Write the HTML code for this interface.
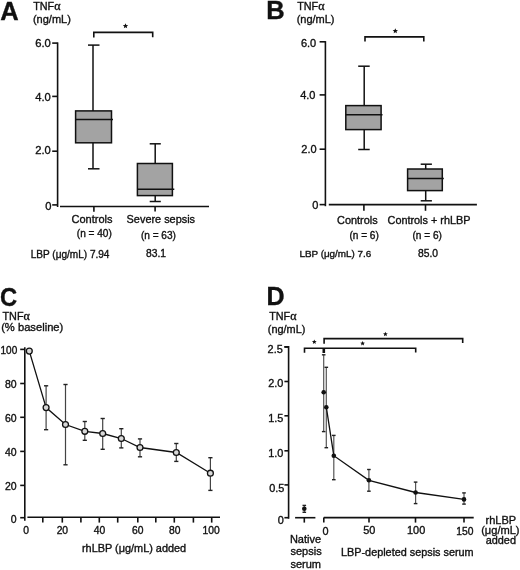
<!DOCTYPE html>
<html><head><meta charset="utf-8"><style>
html,body{margin:0;padding:0;background:#fff;}
svg{display:block;font-family:"Liberation Sans",sans-serif;will-change:transform;}
text{stroke:#111;stroke-width:0.35px;}
</style></head><body>
<svg width="520" height="570" viewBox="0 0 520 570">
<rect width="520" height="570" fill="#fff"/>
<text x="0.26" y="20.40" font-size="25.5" font-weight="bold" fill="#111">A</text>
<text x="33.23" y="9.90" font-size="10.8" fill="#111">TNF<tspan font-family="Liberation Serif" font-size="1.12em">α</tspan></text>
<text x="32.94" y="23.20" font-size="11" fill="#111">(ng/mL)</text>
<line x1="52.2" y1="43.1" x2="57.6" y2="43.1" stroke="#111" stroke-width="1.6"/>
<line x1="52.2" y1="96.4" x2="57.6" y2="96.4" stroke="#111" stroke-width="1.6"/>
<line x1="52.2" y1="151.2" x2="57.6" y2="151.2" stroke="#111" stroke-width="1.6"/>
<line x1="52.2" y1="204.9" x2="57.6" y2="204.9" stroke="#111" stroke-width="1.6"/>
<path d="M57.6 42.4 V207" stroke="#111" stroke-width="1.6" fill="none"/>
<text x="35.18" y="47.40" font-size="11.2" fill="#111">6.0</text>
<text x="35.18" y="100.90" font-size="11.2" fill="#111">4.0</text>
<text x="35.18" y="154.40" font-size="11.2" fill="#111">2.0</text>
<text x="45.13" y="210.30" font-size="11.2" fill="#111">0</text>
<line x1="60" y1="206.5" x2="209" y2="206.5" stroke="#111" stroke-width="1.6"/>
<line x1="93.9" y1="206.3" x2="93.9" y2="211.8" stroke="#111" stroke-width="1.6"/>
<line x1="155.1" y1="206.3" x2="155.1" y2="211.5" stroke="#111" stroke-width="1.6"/>
<rect x="75.6" y="110.9" width="35.900000000000006" height="31.900000000000006" fill="#a3a3a3" stroke="#111" stroke-width="1.5"/>
<line x1="75.6" y1="119.6" x2="113" y2="119.6" stroke="#111" stroke-width="1.5"/>
<line x1="93" y1="45.1" x2="93" y2="110.9" stroke="#111" stroke-width="1.5"/>
<line x1="88" y1="45.1" x2="99.5" y2="45.1" stroke="#111" stroke-width="1.5"/>
<line x1="93" y1="142.8" x2="93" y2="168.8" stroke="#111" stroke-width="1.5"/>
<line x1="88" y1="168.8" x2="99.5" y2="168.8" stroke="#111" stroke-width="1.5"/>
<rect x="137.4" y="163.5" width="35.0" height="32.099999999999994" fill="#a3a3a3" stroke="#111" stroke-width="1.5"/>
<line x1="137.4" y1="189.2" x2="174.3" y2="189.2" stroke="#111" stroke-width="1.5"/>
<line x1="155.2" y1="143.8" x2="155.2" y2="163.5" stroke="#111" stroke-width="1.5"/>
<line x1="149.7" y1="143.8" x2="160.79999999999998" y2="143.8" stroke="#111" stroke-width="1.5"/>
<line x1="155.2" y1="195.6" x2="155.2" y2="201.5" stroke="#111" stroke-width="1.5"/>
<line x1="149.7" y1="201.5" x2="160.79999999999998" y2="201.5" stroke="#111" stroke-width="1.5"/>
<path d="M93.8 37.5 V32.4 H152.7 V37.3" stroke="#111" stroke-width="1.6" fill="none"/>
<polygon points="125.50,23.30 126.24,25.08 128.16,25.23 126.70,26.49 127.15,28.37 125.50,27.36 123.85,28.37 124.30,26.49 122.84,25.23 124.76,25.08" fill="#111"/>
<text x="71.55" y="222.70" font-size="11" fill="#111">Controls</text>
<text x="126.61" y="222.70" font-size="10.9" fill="#111">Severe sepsis</text>
<text x="76.79" y="237.00" font-size="10.1" fill="#111">(n = 40)</text>
<text x="140.89" y="239.40" font-size="10.1" fill="#111">(n = 63)</text>
<text x="30.70" y="257.50" font-size="10.05" fill="#111">LBP (μg/mL) 7.94</text>
<text x="146.04" y="257.30" font-size="10.3" fill="#111">83.1</text>
<text x="266.14" y="18.80" font-size="25.5" font-weight="bold" fill="#111">B</text>
<text x="297.13" y="9.90" font-size="10.8" fill="#111">TNF<tspan font-family="Liberation Serif" font-size="1.12em">α</tspan></text>
<text x="296.64" y="23.10" font-size="11" fill="#111">(ng/mL)</text>
<line x1="319.6" y1="41.8" x2="325.4" y2="41.8" stroke="#111" stroke-width="1.6"/>
<line x1="319.6" y1="94.9" x2="325.4" y2="94.9" stroke="#111" stroke-width="1.6"/>
<line x1="319.6" y1="149.2" x2="325.4" y2="149.2" stroke="#111" stroke-width="1.6"/>
<line x1="319.6" y1="204.6" x2="325.4" y2="204.6" stroke="#111" stroke-width="1.6"/>
<path d="M325.4 41.1 V206.2" stroke="#111" stroke-width="1.6" fill="none"/>
<text x="300.95" y="46.50" font-size="11.0" fill="#111">6.0</text>
<text x="300.15" y="99.10" font-size="11.0" fill="#111">4.0</text>
<text x="301.35" y="152.70" font-size="11.0" fill="#111">2.0</text>
<text x="312.13" y="209.20" font-size="11.0" fill="#111">0</text>
<line x1="328.8" y1="204.6" x2="476.9" y2="204.6" stroke="#111" stroke-width="1.6"/>
<line x1="363.9" y1="204.6" x2="363.9" y2="210.8" stroke="#111" stroke-width="1.6"/>
<line x1="425.5" y1="204.6" x2="425.5" y2="210.8" stroke="#111" stroke-width="1.6"/>
<rect x="345.8" y="105.6" width="35.30000000000001" height="24.0" fill="#a3a3a3" stroke="#111" stroke-width="1.5"/>
<line x1="345.8" y1="114.7" x2="382.5" y2="114.7" stroke="#111" stroke-width="1.5"/>
<line x1="364.2" y1="66.2" x2="364.2" y2="105.6" stroke="#111" stroke-width="1.5"/>
<line x1="358.2" y1="66.2" x2="369.7" y2="66.2" stroke="#111" stroke-width="1.5"/>
<line x1="364.2" y1="129.6" x2="364.2" y2="149.5" stroke="#111" stroke-width="1.5"/>
<line x1="358.2" y1="149.5" x2="369.7" y2="149.5" stroke="#111" stroke-width="1.5"/>
<rect x="407.6" y="169.0" width="34.69999999999999" height="21.599999999999994" fill="#a3a3a3" stroke="#111" stroke-width="1.5"/>
<line x1="407.6" y1="178.5" x2="443.8" y2="178.5" stroke="#111" stroke-width="1.5"/>
<line x1="425.7" y1="164.2" x2="425.7" y2="169.0" stroke="#111" stroke-width="1.5"/>
<line x1="420.7" y1="164.2" x2="431.9" y2="164.2" stroke="#111" stroke-width="1.5"/>
<line x1="425.7" y1="190.6" x2="425.7" y2="200.8" stroke="#111" stroke-width="1.5"/>
<line x1="420.7" y1="200.8" x2="431.9" y2="200.8" stroke="#111" stroke-width="1.5"/>
<path d="M365 41.5 V36.9 H423.8 V41.5" stroke="#111" stroke-width="1.6" fill="none"/>
<polygon points="395.30,28.30 396.04,30.08 397.96,30.23 396.50,31.49 396.95,33.37 395.30,32.36 393.65,33.37 394.10,31.49 392.64,30.23 394.56,30.08" fill="#111"/>
<text x="337.06" y="223.60" font-size="10.9" fill="#111">Controls</text>
<text x="387.56" y="223.80" font-size="10.85" fill="#111">Controls + rhLBP</text>
<text x="349.39" y="239.00" font-size="10.1" fill="#111">(n = 6)</text>
<text x="412.49" y="238.70" font-size="10.1" fill="#111">(n = 6)</text>
<text x="299.41" y="257.10" font-size="9.9" fill="#111">LBP (μg/mL) 7.6</text>
<text x="418.04" y="257.10" font-size="10.3" fill="#111">85.0</text>
<text transform="translate(-0.05,305.80) scale(0.95,1)" font-size="25" font-weight="bold" fill="#111">C</text>
<text x="2.53" y="320.30" font-size="10.8" fill="#111">TNF<tspan font-family="Liberation Serif" font-size="1.12em">α</tspan></text>
<text x="1.13" y="331.40" font-size="11.2" fill="#111">(% baseline)</text>
<line x1="20.2" y1="349.4" x2="24.8" y2="349.4" stroke="#111" stroke-width="1.6"/>
<line x1="20.2" y1="383.5" x2="24.8" y2="383.5" stroke="#111" stroke-width="1.6"/>
<line x1="20.2" y1="417.3" x2="24.8" y2="417.3" stroke="#111" stroke-width="1.6"/>
<line x1="20.2" y1="451.4" x2="24.8" y2="451.4" stroke="#111" stroke-width="1.6"/>
<line x1="20.2" y1="485.4" x2="24.8" y2="485.4" stroke="#111" stroke-width="1.6"/>
<line x1="20.2" y1="517.7" x2="24.8" y2="517.7" stroke="#111" stroke-width="1.6"/>
<path d="M24.8 347.3 V520.8" stroke="#111" stroke-width="1.6" fill="none"/>
<text x="0.55" y="353.80" font-size="10.0" fill="#111">100</text>
<text x="4.96" y="387.90" font-size="10.5" fill="#111">80</text>
<text x="4.96" y="421.70" font-size="10.5" fill="#111">60</text>
<text x="4.96" y="455.80" font-size="10.5" fill="#111">40</text>
<text x="4.96" y="489.80" font-size="10.5" fill="#111">20</text>
<text x="10.79" y="523.40" font-size="10.5" fill="#111">0</text>
<line x1="27.4" y1="517.3" x2="220.0" y2="517.3" stroke="#111" stroke-width="1.6"/>
<line x1="42.8" y1="517.3" x2="42.8" y2="522.6" stroke="#111" stroke-width="1.6"/>
<line x1="62.3" y1="517.3" x2="62.3" y2="522.6" stroke="#111" stroke-width="1.6"/>
<line x1="80.9" y1="517.3" x2="80.9" y2="522.6" stroke="#111" stroke-width="1.6"/>
<line x1="99.3" y1="517.3" x2="99.3" y2="522.6" stroke="#111" stroke-width="1.6"/>
<line x1="117.7" y1="517.3" x2="117.7" y2="522.6" stroke="#111" stroke-width="1.6"/>
<line x1="137.8" y1="517.3" x2="137.8" y2="522.6" stroke="#111" stroke-width="1.6"/>
<line x1="155.8" y1="517.3" x2="155.8" y2="522.6" stroke="#111" stroke-width="1.6"/>
<line x1="174.3" y1="517.3" x2="174.3" y2="522.6" stroke="#111" stroke-width="1.6"/>
<line x1="193.4" y1="517.3" x2="193.4" y2="522.6" stroke="#111" stroke-width="1.6"/>
<line x1="211.7" y1="517.3" x2="211.7" y2="522.6" stroke="#111" stroke-width="1.6"/>
<text x="23.34" y="534.40" font-size="10.3" fill="#111">0</text>
<text x="56.63" y="534.40" font-size="10.3" fill="#111">20</text>
<text x="93.86" y="534.40" font-size="10.3" fill="#111">40</text>
<text x="132.03" y="534.40" font-size="10.3" fill="#111">60</text>
<text x="168.96" y="534.40" font-size="10.3" fill="#111">80</text>
<text x="202.44" y="534.40" font-size="10.3" fill="#111">100</text>
<text x="81.99" y="551.90" font-size="10.9" fill="#111">rhLBP (μg/mL) added</text>
<line x1="46.1" y1="385.8" x2="46.1" y2="429.7" stroke="#444" stroke-width="1.2"/>
<line x1="44.0" y1="385.8" x2="48.2" y2="385.8" stroke="#222" stroke-width="1.4"/>
<line x1="44.0" y1="429.7" x2="48.2" y2="429.7" stroke="#222" stroke-width="1.4"/>
<line x1="65.5" y1="384.5" x2="65.5" y2="464.8" stroke="#444" stroke-width="1.2"/>
<line x1="63.4" y1="384.5" x2="67.6" y2="384.5" stroke="#222" stroke-width="1.4"/>
<line x1="63.4" y1="464.8" x2="67.6" y2="464.8" stroke="#222" stroke-width="1.4"/>
<line x1="84.8" y1="421.5" x2="84.8" y2="440.3" stroke="#444" stroke-width="1.2"/>
<line x1="82.7" y1="421.5" x2="86.89999999999999" y2="421.5" stroke="#222" stroke-width="1.4"/>
<line x1="82.7" y1="440.3" x2="86.89999999999999" y2="440.3" stroke="#222" stroke-width="1.4"/>
<line x1="102.7" y1="418.5" x2="102.7" y2="449.3" stroke="#444" stroke-width="1.2"/>
<line x1="100.60000000000001" y1="418.5" x2="104.8" y2="418.5" stroke="#222" stroke-width="1.4"/>
<line x1="100.60000000000001" y1="449.3" x2="104.8" y2="449.3" stroke="#222" stroke-width="1.4"/>
<line x1="121.3" y1="428.7" x2="121.3" y2="447.9" stroke="#444" stroke-width="1.2"/>
<line x1="119.2" y1="428.7" x2="123.39999999999999" y2="428.7" stroke="#222" stroke-width="1.4"/>
<line x1="119.2" y1="447.9" x2="123.39999999999999" y2="447.9" stroke="#222" stroke-width="1.4"/>
<line x1="140" y1="438.9" x2="140" y2="456.8" stroke="#444" stroke-width="1.2"/>
<line x1="137.9" y1="438.9" x2="142.1" y2="438.9" stroke="#222" stroke-width="1.4"/>
<line x1="137.9" y1="456.8" x2="142.1" y2="456.8" stroke="#222" stroke-width="1.4"/>
<line x1="176.3" y1="443.5" x2="176.3" y2="461.4" stroke="#444" stroke-width="1.2"/>
<line x1="174.20000000000002" y1="443.5" x2="178.4" y2="443.5" stroke="#222" stroke-width="1.4"/>
<line x1="174.20000000000002" y1="461.4" x2="178.4" y2="461.4" stroke="#222" stroke-width="1.4"/>
<line x1="210.4" y1="457.7" x2="210.4" y2="490.4" stroke="#444" stroke-width="1.2"/>
<line x1="208.3" y1="457.7" x2="212.5" y2="457.7" stroke="#222" stroke-width="1.4"/>
<line x1="208.3" y1="490.4" x2="212.5" y2="490.4" stroke="#222" stroke-width="1.4"/>
<path d="M29.3 351.1 L46.1 407.6 L65.5 424.5 L84.8 431.3 L102.7 433.5 L121.3 438.5 L140 447.5 L176.3 452.5 L210.4 473.2" stroke="#111" stroke-width="1.3" fill="none"/>
<circle cx="29.3" cy="351.1" r="2.95" fill="#d8d8d8" stroke="#111" stroke-width="1.3"/>
<circle cx="46.1" cy="407.6" r="2.95" fill="#d8d8d8" stroke="#111" stroke-width="1.3"/>
<circle cx="65.5" cy="424.5" r="2.95" fill="#d8d8d8" stroke="#111" stroke-width="1.3"/>
<circle cx="84.8" cy="431.3" r="2.95" fill="#d8d8d8" stroke="#111" stroke-width="1.3"/>
<circle cx="102.7" cy="433.5" r="2.95" fill="#d8d8d8" stroke="#111" stroke-width="1.3"/>
<circle cx="121.3" cy="438.5" r="2.95" fill="#d8d8d8" stroke="#111" stroke-width="1.3"/>
<circle cx="140" cy="447.5" r="2.95" fill="#d8d8d8" stroke="#111" stroke-width="1.3"/>
<circle cx="176.3" cy="452.5" r="2.95" fill="#d8d8d8" stroke="#111" stroke-width="1.3"/>
<circle cx="210.4" cy="473.2" r="2.95" fill="#d8d8d8" stroke="#111" stroke-width="1.3"/>
<text x="266.38" y="305.40" font-size="25" font-weight="bold" fill="#111">D</text>
<text x="269.23" y="319.70" font-size="10.8" fill="#111">TNF<tspan font-family="Liberation Serif" font-size="1.12em">α</tspan></text>
<text x="267.85" y="333.10" font-size="10.9" fill="#111">(ng/mL)</text>
<line x1="284.4" y1="346.9" x2="288.6" y2="346.9" stroke="#111" stroke-width="1.6"/>
<line x1="284.4" y1="381.5" x2="288.6" y2="381.5" stroke="#111" stroke-width="1.6"/>
<line x1="284.4" y1="415.8" x2="288.6" y2="415.8" stroke="#111" stroke-width="1.6"/>
<line x1="284.4" y1="450.8" x2="288.6" y2="450.8" stroke="#111" stroke-width="1.6"/>
<line x1="284.4" y1="484.9" x2="288.6" y2="484.9" stroke="#111" stroke-width="1.6"/>
<line x1="284.4" y1="517.7" x2="288.6" y2="517.7" stroke="#111" stroke-width="1.6"/>
<path d="M284.4 346.9 H288.6 V518.8" stroke="#111" stroke-width="1.6" fill="none"/>
<text x="267.59" y="353.40" font-size="10.9" fill="#111">2.5</text>
<text x="268.29" y="386.80" font-size="10.9" fill="#111">2.0</text>
<text x="268.19" y="421.80" font-size="10.9" fill="#111">1.5</text>
<text x="268.29" y="456.80" font-size="10.9" fill="#111">1.0</text>
<text x="269.19" y="491.60" font-size="10.9" fill="#111">0.5</text>
<text x="277.79" y="523.50" font-size="10.9" fill="#111">0</text>
<line x1="295.1" y1="517.7" x2="315.4" y2="517.7" stroke="#111" stroke-width="1.6"/>
<line x1="304.3" y1="517.7" x2="304.3" y2="522.6" stroke="#111" stroke-width="1.6"/>
<line x1="323.8" y1="517.6" x2="473.7" y2="517.6" stroke="#111" stroke-width="1.6"/>
<line x1="323.8" y1="517.6" x2="323.8" y2="522.6" stroke="#111" stroke-width="1.6"/>
<line x1="369.0" y1="517.6" x2="369.0" y2="522.6" stroke="#111" stroke-width="1.6"/>
<line x1="415.5" y1="517.6" x2="415.5" y2="522.6" stroke="#111" stroke-width="1.6"/>
<line x1="464.0" y1="517.6" x2="464.0" y2="522.6" stroke="#111" stroke-width="1.6"/>
<text x="322.58" y="534.60" font-size="10.9" fill="#111">0</text>
<text x="363.25" y="534.40" font-size="10.9" fill="#111">50</text>
<text x="407.04" y="534.40" font-size="10.9" fill="#111">100</text>
<text x="456.35" y="534.50" font-size="10.3" fill="#111">150</text>
<text x="289.92" y="543.10" font-size="11" fill="#111">Native</text>
<text x="290.47" y="555.40" font-size="11" fill="#111">sepsis</text>
<text x="290.47" y="567.70" font-size="11" fill="#111">serum</text>
<text x="341.03" y="555.60" font-size="10.85" fill="#111">LBP-depleted sepsis serum</text>
<text x="485.49" y="523.60" font-size="11" fill="#111">rhLBP</text>
<text x="481.13" y="534.40" font-size="11.1" fill="#111">(μg/mL)</text>
<text x="485.71" y="543.90" font-size="10.9" fill="#111">added</text>
<path d="M304.5 352.8 V348.2 H415.7 V352.4" stroke="#111" stroke-width="1.6" fill="none"/>
<line x1="323.8" y1="348.2" x2="323.8" y2="353.0" stroke="#111" stroke-width="2.6"/>
<path d="M324.1 343.7 V338.6 H462.7 V343.0" stroke="#111" stroke-width="1.6" fill="none"/>
<polygon points="314.30,339.40 314.96,340.99 316.68,341.13 315.37,342.25 315.77,343.92 314.30,343.02 312.83,343.92 313.23,342.25 311.92,341.13 313.64,340.99" fill="#111"/>
<polygon points="362.60,341.00 363.26,342.59 364.98,342.73 363.67,343.85 364.07,345.52 362.60,344.62 361.13,345.52 361.53,343.85 360.22,342.73 361.94,342.59" fill="#111"/>
<polygon points="385.40,331.70 386.06,333.29 387.78,333.43 386.47,334.55 386.87,336.22 385.40,335.32 383.93,336.22 384.33,334.55 383.02,333.43 384.74,333.29" fill="#111"/>
<line x1="323.7" y1="354.8" x2="323.7" y2="431.6" stroke="#555" stroke-width="1.2"/>
<line x1="321.9" y1="354.8" x2="325.5" y2="354.8" stroke="#222" stroke-width="1.4"/>
<line x1="321.9" y1="431.6" x2="325.5" y2="431.6" stroke="#222" stroke-width="1.4"/>
<line x1="326.3" y1="367.3" x2="326.3" y2="447.7" stroke="#555" stroke-width="1.2"/>
<line x1="324.5" y1="367.3" x2="328.1" y2="367.3" stroke="#222" stroke-width="1.4"/>
<line x1="324.5" y1="447.7" x2="328.1" y2="447.7" stroke="#222" stroke-width="1.4"/>
<line x1="333.8" y1="435.4" x2="333.8" y2="479.7" stroke="#555" stroke-width="1.2"/>
<line x1="332.0" y1="435.4" x2="335.6" y2="435.4" stroke="#222" stroke-width="1.4"/>
<line x1="332.0" y1="479.7" x2="335.6" y2="479.7" stroke="#222" stroke-width="1.4"/>
<line x1="368.9" y1="469.5" x2="368.9" y2="491.2" stroke="#555" stroke-width="1.2"/>
<line x1="367.09999999999997" y1="469.5" x2="370.7" y2="469.5" stroke="#222" stroke-width="1.4"/>
<line x1="367.09999999999997" y1="491.2" x2="370.7" y2="491.2" stroke="#222" stroke-width="1.4"/>
<line x1="415.6" y1="482.1" x2="415.6" y2="503.6" stroke="#555" stroke-width="1.2"/>
<line x1="413.8" y1="482.1" x2="417.40000000000003" y2="482.1" stroke="#222" stroke-width="1.4"/>
<line x1="413.8" y1="503.6" x2="417.40000000000003" y2="503.6" stroke="#222" stroke-width="1.4"/>
<line x1="464" y1="492.9" x2="464" y2="504.1" stroke="#555" stroke-width="1.2"/>
<line x1="462.2" y1="492.9" x2="465.8" y2="492.9" stroke="#222" stroke-width="1.4"/>
<line x1="462.2" y1="504.1" x2="465.8" y2="504.1" stroke="#222" stroke-width="1.4"/>
<line x1="304.3" y1="505.4" x2="304.3" y2="512.3" stroke="#555" stroke-width="1.2"/>
<line x1="302.5" y1="505.4" x2="306.1" y2="505.4" stroke="#222" stroke-width="1.4"/>
<line x1="302.5" y1="512.3" x2="306.1" y2="512.3" stroke="#222" stroke-width="1.4"/>
<path d="M326.3 407.2 L333.8 455.7 L368.9 480.3 L415.6 492.5 L464 499.4" stroke="#111" stroke-width="1.3" fill="none"/>
<circle cx="323.7" cy="392.3" r="2.3" fill="#111"/>
<circle cx="326.3" cy="407.2" r="2.3" fill="#111"/>
<circle cx="333.8" cy="455.7" r="2.3" fill="#111"/>
<circle cx="368.9" cy="480.3" r="2.3" fill="#111"/>
<circle cx="415.6" cy="492.5" r="2.3" fill="#111"/>
<circle cx="464" cy="499.4" r="2.3" fill="#111"/>
<circle cx="304.3" cy="508.8" r="2.3" fill="#111"/>
</svg>
</body></html>
